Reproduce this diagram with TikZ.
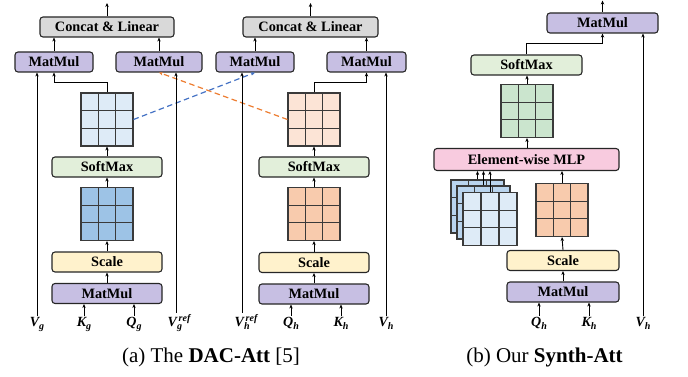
\documentclass[tikz,border=0pt]{standalone}
\usepackage{fontspec}
\setmainfont{Liberation Serif}
\usetikzlibrary{arrows.meta,calc}
\definecolor{cgray}{HTML}{D9D9D9}
\definecolor{cmm}{HTML}{C7BFE3}
\definecolor{csoft}{HTML}{E2EFDA}
\definecolor{cscale}{HTML}{FFF2CC}
\definecolor{cmlp}{HTML}{F8CBDF}
\definecolor{cblueL}{HTML}{DEEBF7}
\definecolor{cblueD}{HTML}{9DC3E6}
\definecolor{cblueM}{HTML}{B9D4EE}
\definecolor{cpeachL}{HTML}{FCE4D6}
\definecolor{cpeachD}{HTML}{F8CBAD}
\definecolor{cgreen}{HTML}{CBE5CE}
\definecolor{cdblue}{HTML}{4472C4}
\definecolor{corange}{HTML}{ED7D31}
\definecolor{cline}{HTML}{262626}
\definecolor{cgrid}{HTML}{3A3A3A}
\newcommand{\lsub}[2]{#1\raisebox{-3.5pt}{\fontsize{10}{10}\selectfont #2}}
\newcommand{\lsubsup}[3]{#1\rlap{\raisebox{-3.5pt}{\fontsize{10}{10}\selectfont #2}}\raisebox{5pt}{\fontsize{10}{10}\selectfont\,#3}}
\tikzset{
  box/.style={draw=cline, line width=1.1pt, rounded corners=3pt, minimum height=20pt, inner sep=0pt,
    font=\fontsize{14.3}{16}\selectfont\bfseries},
  mat/.style={draw=cgrid, line width=1.1pt, minimum width=52pt, minimum height=53pt, inner sep=0pt,
    path picture={
      \foreach \f in {0.3333,0.6667}{
        \draw[cgrid,line width=1.1pt] ($(path picture bounding box.north west)!\f!(path picture bounding box.north east)$) -- ($(path picture bounding box.south west)!\f!(path picture bounding box.south east)$);
        \draw[cgrid,line width=1.1pt] ($(path picture bounding box.north west)!\f!(path picture bounding box.south west)$) -- ($(path picture bounding box.north east)!\f!(path picture bounding box.south east)$);
      }}},
  arr/.style={-{Stealth[length=4pt,width=3.4pt]}, line width=0.9pt, draw=black},
  dblue/.style={arr, draw=cdblue, line width=1.2pt, dash pattern=on 5.5pt off 3.5pt},
  dorange/.style={arr, draw=corange, line width=1.2pt, dash pattern=on 5.5pt off 3.5pt},
  lab/.style={font=\fontsize{14}{16}\selectfont\bfseries\itshape, inner sep=1pt, anchor=base},
  captxt/.style={font=\fontsize{21}{24}\selectfont, inner sep=0pt}
}
\begin{document}
\begin{tikzpicture}[x=1pt,y=-1pt]
\useasboundingbox (0,0) rectangle (688,377);
% ---------- panel (a) left ----------
\node[box, fill=cgray, minimum width=134pt] (concatA) at (107,27) {Concat \& Linear};
\node[box, fill=cmm, minimum width=78pt] (mmA1) at (54,62) {MatMul};
\node[box, fill=cmm, minimum width=86pt] (mmA2) at (159,62) {MatMul};
\node[mat, fill=cblueL] (matA1) at (107,119.5) {};
\node[box, fill=csoft, minimum width=110pt] (softA) at (107,167) {SoftMax};
\node[mat, fill=cblueD] (matA2) at (107,214) {};
\node[box, fill=cscale, minimum width=110pt] (scaleA) at (107,262) {Scale};
\node[box, fill=cmm, minimum width=110pt] (mmA3) at (107,293.5) {MatMul};
\node[lab] (Vg) at (37,326) {\lsub{V}{g}};
\node[lab] (Kg) at (84,326) {\lsub{K}{g}};
\node[lab] (Qg) at (134,326) {\lsub{Q}{g}};
\node[lab] (Vgref) at (179,326) {\lsubsup{V}{g}{ref}};
% ---------- panel (a) right ----------
\node[box, fill=cgray, minimum width=135pt] (concatB) at (310.5,27) {Concat \& Linear};
\node[box, fill=cmm, minimum width=78pt] (mmB1) at (255,62) {MatMul};
\node[box, fill=cmm, minimum width=79pt] (mmB2) at (366.5,62) {MatMul};
\node[mat, fill=cpeachL] (matB1) at (314,119.5) {};
\node[box, fill=csoft, minimum width=110pt] (softB) at (314,167) {SoftMax};
\node[mat, fill=cpeachD] (matB2) at (314,214) {};
\node[box, fill=cscale, minimum width=110pt] (scaleB) at (314,262.5) {Scale};
\node[box, fill=cmm, minimum width=110pt] (mmB3) at (314,294) {MatMul};
\node[lab] (Vhref) at (246,326) {\lsubsup{V}{h}{ref}};
\node[lab] (Qh) at (291,326) {\lsub{Q}{h}};
\node[lab] (Kh) at (341,326) {\lsub{K}{h}};
\node[lab] (Vh) at (386,326) {\lsub{V}{h}};
% ---------- panel (b) ----------
\node[box, fill=cmm, minimum width=111pt] (mmC) at (602.5,23) {MatMul};
\node[box, fill=csoft, minimum width=111pt] (softC) at (526.5,65) {SoftMax};
\node[mat, fill=cgreen] (matC) at (527,111) {};
\node[box, fill=cmlp, minimum width=185pt, minimum height=22pt] (mlp) at (526.5,159.5) {Element-wise MLP};
\node[mat, fill=cblueM, minimum width=53pt] (stackA) at (477.5,206.5) {};
\node[mat, fill=cblueM, minimum width=53pt] (stackB) at (483.5,212.5) {};
\node[mat, fill=cblueL, minimum width=54pt] (stackC) at (490,219) {};
\node[mat, fill=cpeachD] (matC2) at (562,210) {};
\node[box, fill=cscale, minimum width=112pt] (scaleC) at (563,260.5) {Scale};
\node[box, fill=cmm, minimum width=112pt] (mmC2) at (563,292) {MatMul};
\node[lab] (Qh2) at (539,326) {\lsub{Q}{h}};
\node[lab] (Kh2) at (589,326) {\lsub{K}{h}};
\node[lab] (Vh2) at (643,326) {\lsub{V}{h}};
% captions
\node[captxt] (capA) at (211,357) {(a) The \textbf{DAC-Att} [5]};
\node[captxt] (capB) at (544.5,357) {(b) Our \textbf{Synth-Att}};
% free ends
\coordinate (topA) at (107,3);
\coordinate (topB) at (310.5,3);
\coordinate (topC) at (602.5,0.5);
% ---------- dashed cross connectors ----------
\draw[dblue] (matA1.east) -- (mmB1.south);
\draw[dorange] (matB1.west) -- (mmA2.south);
% ---------- connectors (a) left ----------
\draw[arr] (concatA.north) -- (topA);
\draw[arr] (mmA1.north) -- (mmA1.north |- concatA.south);
\draw[arr] (mmA2.north) -- (mmA2.north |- concatA.south);
\draw[arr] (matA1.north) -- ++(0,-10) -| (mmA1.south);
\draw[arr] (softA.north) -- (matA1.south);
\draw[arr] (matA2.north) -- (softA.south);
\draw[arr] (scaleA.north) -- (matA2.south);
\draw[arr] (mmA3.north) -- (scaleA.south);
\draw[arr] (Vg.north) -- (Vg.north |- mmA1.south);
\draw[arr] (Kg.north) -- (Kg.north |- mmA3.south);
\draw[arr] (Qg.north) -- (Qg.north |- mmA3.south);
\draw[arr] ([xshift=-3pt]Vgref.north) -- ([xshift=-3pt]Vgref.north |- mmA2.south);
% ---------- connectors (a) right ----------
\draw[arr] (concatB.north) -- (topB);
\draw[arr] (mmB1.north) -- (mmB1.north |- concatB.south);
\draw[arr] (mmB2.north) -- (mmB2.north |- concatB.south);
\draw[arr] (matB1.north) -- ++(0,-10) -| (mmB2.south);
\draw[arr] (softB.north) -- (matB1.south);
\draw[arr] (matB2.north) -- (softB.south);
\draw[arr] (scaleB.north) -- (matB2.south);
\draw[arr] (mmB3.north) -- (scaleB.south);
\draw[arr] ([xshift=-4pt]Vhref.north) -- ([xshift=-4pt]Vhref.north |- mmB1.south);
\draw[arr] (Qh.north) -- (Qh.north |- mmB3.south);
\draw[arr] (Kh.north) -- (Kh.north |- mmB3.south);
\draw[arr] (Vh.north) -- (Vh.north |- mmB2.south);
% ---------- connectors (b) ----------
\draw[arr] (mmC.north) -- (topC);
\draw[arr] (softC.north) -- ++(0,-11) -| (mmC.south);
\draw[arr] (matC.north) -- (matC.north |- softC.south);
\draw[arr] (matC.south |- mlp.north) -- (matC.south);
\draw[arr] (stackA.north) -- (stackA.north |- mlp.south);
\draw[arr] (stackB.north) -- (stackB.north |- mlp.south);
\draw[arr] (stackC.north) -- (stackC.north |- mlp.south);
\draw[arr] (matC2.north) -- (matC2.north |- mlp.south);
\draw[arr] (scaleC.north) -- (matC2.south);
\draw[arr] (mmC2.north) -- (scaleC.south);
\draw[arr] (Qh2.north) -- (Qh2.north |- mmC2.south);
\draw[arr] (Kh2.north) -- (Kh2.north |- mmC2.south);
\draw[arr] (Vh2.north) -- (Vh2.north |- mmC.south);
\end{tikzpicture}
\end{document}
